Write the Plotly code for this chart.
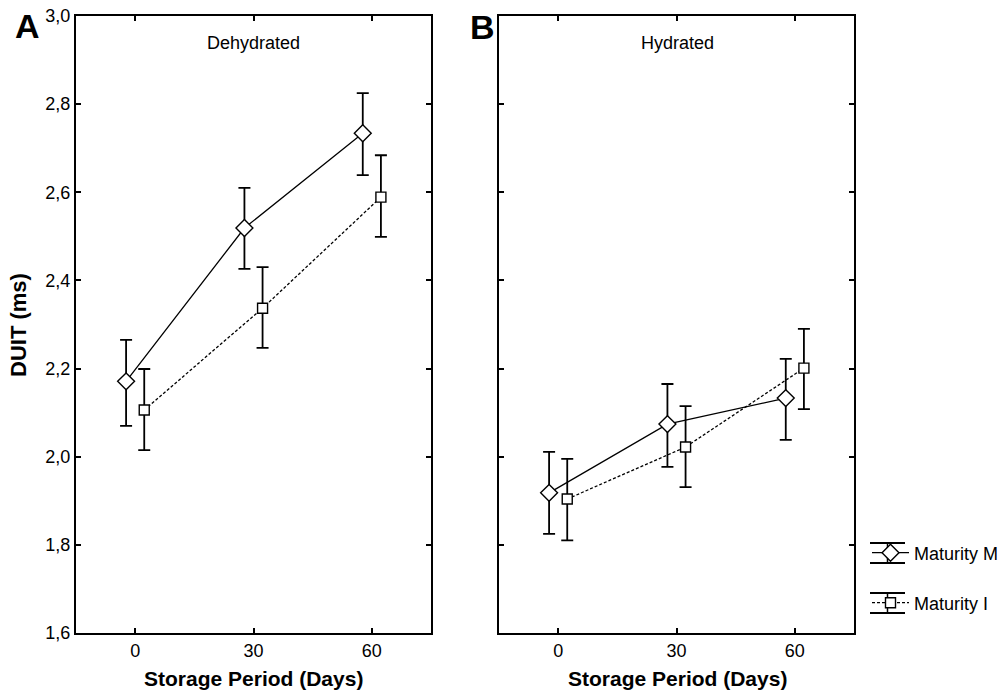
import plotly.graph_objects as go

days = [0, 30, 60]
offset = 2.3  # horizontal dodge (days)

# Panel A - Dehydrated
dehyd_M = [2.171, 2.519, 2.734]
dehyd_M_hi = [2.265, 2.610, 2.825]
dehyd_M_lo = [2.070, 2.426, 2.639]
dehyd_I = [2.106, 2.337, 2.589]
dehyd_I_hi = [2.199, 2.430, 2.684]
dehyd_I_lo = [2.015, 2.247, 2.499]

# Panel B - Hydrated
hyd_M = [1.918, 2.074, 2.133]
hyd_M_hi = [2.011, 2.165, 2.222]
hyd_M_lo = [1.825, 1.977, 2.038]
hyd_I = [1.904, 2.022, 2.201]
hyd_I_hi = [1.995, 2.115, 2.290]
hyd_I_lo = [1.810, 1.931, 2.108]

y_ticks = [1.6, 1.8, 2.0, 2.2, 2.4, 2.6, 2.8, 3.0]
x_ticks = [0, 30, 60]

FONT = "Liberation Sans, Arial, sans-serif"

fig = go.Figure()

def add_series(x_axis, y_axis, vals, hi, lo, name, symbol, size, dash, dx, showlegend, legend):
    xs = [d + dx for d in days]
    fig.add_trace(go.Scatter(
        x=xs, y=vals, mode="lines+markers", name=name,
        xaxis=x_axis, yaxis=y_axis,
        line=dict(color="black", width=1.3, dash=dash),
        marker=dict(symbol=symbol, size=size, color="white",
                    line=dict(color="black", width=1.4)),
        error_y=dict(type="data", symmetric=False,
                     array=[h - v for h, v in zip(hi, vals)],
                     arrayminus=[v - l for v, l in zip(vals, lo)],
                     color="black", thickness=1.8, width=6),
        showlegend=showlegend, legend=legend,
    ))

add_series("x", "y", dehyd_M, dehyd_M_hi, dehyd_M_lo, "Maturity M", "diamond", 13, "solid", -offset, False, "legend")
add_series("x", "y", dehyd_I, dehyd_I_hi, dehyd_I_lo, "Maturity I", "square", 10, "3px,2px", offset, False, "legend2")
add_series("x2", "y2", hyd_M, hyd_M_hi, hyd_M_lo, "Maturity M", "diamond", 13, "solid", -offset, True, "legend")
add_series("x2", "y2", hyd_I, hyd_I_hi, hyd_I_lo, "Maturity I", "square", 10, "3px,2px", offset, True, "legend2")

axis_common = dict(showline=True, linecolor="black", linewidth=2, mirror="ticks",
                   ticks="inside", ticklen=5, tickwidth=1.5, tickcolor="black",
                   showgrid=False, zeroline=False,
                   tickfont=dict(family=FONT, size=18, color="black"))

xa = dict(range=[-15, 75], tickvals=x_ticks, ticktext=[str(v) for v in x_ticks], **axis_common)
ya = dict(range=[1.6, 3.0], tickvals=y_ticks, tickformat=".1f", **axis_common)

L, R, T, B = 76, 149, 16, 57
W, H = 1003, 690
pw = W - L - R
ph = H - T - B

def px_x(x):
    return (x - L) / pw

def px_y(y):
    return 1 - (y - T) / ph

LEG_X = 867
fig.update_layout(
    width=W, height=H,
    margin=dict(l=L, r=R, t=T, b=B, pad=0, autoexpand=False),
    paper_bgcolor="white", plot_bgcolor="white",
    separators=",.",
    font=dict(family=FONT, color="black"),
    xaxis=dict(domain=[0, px_x(431)], anchor="y", **xa),
    yaxis=dict(domain=[0, 1], anchor="x", **ya),
    xaxis2=dict(domain=[px_x(499), 1], anchor="y2", **xa),
    yaxis2=dict(domain=[0, 1], anchor="x2", showticklabels=False, **ya),
    legend=dict(x=px_x(LEG_X), y=px_y(553), xanchor="left", yanchor="middle",
                itemwidth=37,
                font=dict(family=FONT, size=18, color="black"),
                bgcolor="rgba(0,0,0,0)", borderwidth=0),
    legend2=dict(x=px_x(LEG_X), y=px_y(603), xanchor="left", yanchor="middle",
                 itemwidth=37,
                 font=dict(family=FONT, size=18, color="black"),
                 bgcolor="rgba(0,0,0,0)", borderwidth=0),
)

annotations = [
    dict(text="<b>A</b>", x=px_x(27), y=px_y(26), font=dict(size=34, family=FONT)),
    dict(text="<b>B</b>", x=px_x(482), y=px_y(27), font=dict(size=34, family=FONT)),
    dict(text="Dehydrated", x=px_x(253), y=px_y(43), font=dict(size=18, family=FONT)),
    dict(text="Hydrated", x=px_x(677), y=px_y(43), font=dict(size=18, family=FONT)),
    dict(text="<b>Storage Period (Days)</b>", x=px_x(253), y=px_y(678), font=dict(size=21, family=FONT)),
    dict(text="<b>Storage Period (Days)</b>", x=px_x(677), y=px_y(678), font=dict(size=21, family=FONT)),
    dict(text="<b>DUIT (ms)</b>", x=px_x(18), y=px_y(325), textangle=-90, font=dict(size=22, family=FONT)),
]
for a in annotations:
    a.update(xref="paper", yref="paper", showarrow=False, xanchor="center", yanchor="middle")
fig.update_layout(annotations=annotations)

# error-bar style caps on legend glyphs
shapes = []
gx0, gx1 = 870, 905
gxc = 887.5
for yc in (553, 603):
    for dy in (-10, 10):
        shapes.append(dict(type="line", xref="paper", yref="paper",
                           x0=px_x(gx0), x1=px_x(gx1), y0=px_y(yc + dy), y1=px_y(yc + dy),
                           line=dict(color="black", width=2)))
    shapes.append(dict(type="line", xref="paper", yref="paper",
                       x0=px_x(gxc), x1=px_x(gxc), y0=px_y(yc - 10), y1=px_y(yc + 10),
                       line=dict(color="black", width=1.5), layer="below"))
fig.update_layout(shapes=shapes)

fig.write_html("out.html")
